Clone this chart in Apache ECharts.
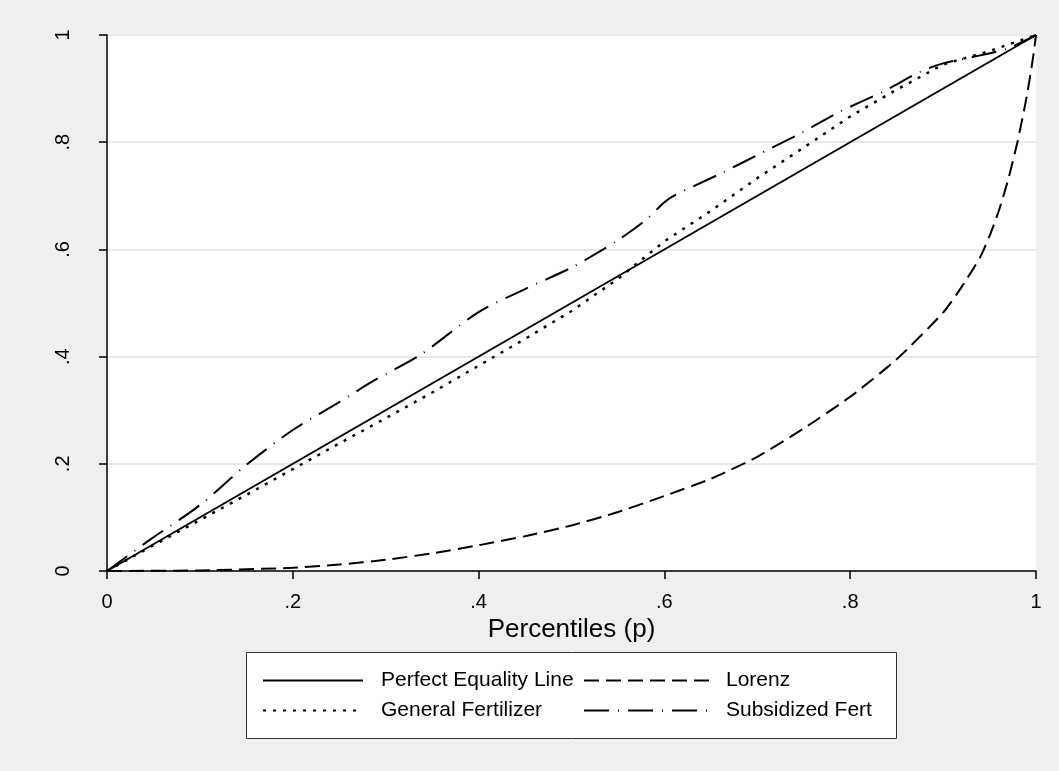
<!DOCTYPE html>
<html>
<head>
<meta charset="utf-8">
<script src="https://cdn.jsdelivr.net/npm/echarts@6/dist/echarts.min.js"></script>
<style>
  html, body { margin: 0; padding: 0; background: #efefef; }
  #chart { width: 1059px; height: 771px; }
</style>
</head>
<body>
<div id="chart"></div>
<script>
// tick labels (Stata style, no leading zero)
var tickLabels = ['0', '.2', '.4', '.6', '.8', '1'];

// Perfect Equality Line
var equalityX = [0, 1];
var equalityY = [0, 1];

// Lorenz
var lorenzX = [0, 0.1, 0.2, 0.25, 0.3, 0.35, 0.4, 0.45, 0.5, 0.55, 0.6, 0.65, 0.7, 0.75, 0.8, 0.85, 0.9, 0.92, 0.94, 0.95, 0.96, 0.97, 0.98, 0.99, 0.997, 1];
var lorenzY = [0, 0.001, 0.006, 0.012, 0.021, 0.033, 0.048, 0.065, 0.085, 0.11, 0.14, 0.172, 0.213, 0.266, 0.325, 0.395, 0.482, 0.53, 0.586, 0.625, 0.672, 0.73, 0.80, 0.885, 0.96, 1];

// General Fertilizer
var genX = [0, 0.05, 0.1, 0.15, 0.2, 0.25, 0.3, 0.35, 0.4, 0.45, 0.5, 0.55, 0.6, 0.65, 0.7, 0.75, 0.8, 0.85, 0.9, 0.95, 1];
var genY = [0, 0.048, 0.095, 0.142, 0.19, 0.238, 0.285, 0.333, 0.383, 0.433, 0.485, 0.545, 0.615, 0.672, 0.733, 0.79, 0.848, 0.898, 0.945, 0.97, 1];

// Subsidized Fert
var subX = [0, 0.046, 0.1, 0.15, 0.2, 0.25, 0.288, 0.337, 0.4, 0.45, 0.5, 0.53, 0.55, 0.58, 0.6, 0.61, 0.66, 0.7, 0.747, 0.789, 0.835, 0.875, 0.9, 0.94, 0.97, 1];
var subY = [0, 0.058, 0.123, 0.198, 0.263, 0.315, 0.356, 0.403, 0.483, 0.526, 0.566, 0.596, 0.617, 0.655, 0.688, 0.70, 0.741, 0.776, 0.817, 0.857, 0.894, 0.931, 0.947, 0.962, 0.975, 1];

function pairs(xs, ys) {
    return xs.map(function (x, i) { return [x, ys[i]]; });
}
function tickFmt(v) {
    return tickLabels[Math.round(v / 0.2)];
}

var font = 'Liberation Sans, Arial, sans-serif';
var myChart = echarts.init(document.getElementById('chart'));
var option = {
    backgroundColor: '#efefef',
    animation: false,
    color: ['#000', '#000', '#000', '#000'],
    textStyle: { fontFamily: font },
    grid: {
        left: 107,
        right: 23,
        top: 35,
        bottom: 200,
        show: true,
        backgroundColor: '#fff',
        borderWidth: 0
    },
    xAxis: {
        type: 'value',
        min: 0,
        max: 1,
        interval: 0.2,
        name: 'Percentiles (p)',
        nameLocation: 'middle',
        nameGap: 40,
        nameTextStyle: { fontSize: 26, color: '#000', fontFamily: font },
        axisLine: { lineStyle: { color: '#000', width: 1.5 } },
        axisTick: { show: true, length: 8, lineStyle: { color: '#000', width: 1.5 } },
        axisLabel: { formatter: tickFmt, fontSize: 20, color: '#000', margin: 21, fontFamily: font },
        splitLine: { show: false }
    },
    yAxis: {
        type: 'value',
        min: 0,
        max: 1,
        interval: 0.2,
        axisLine: { show: true, lineStyle: { color: '#000', width: 1.5 } },
        axisTick: { show: true, length: 8, lineStyle: { color: '#000', width: 1.5 } },
        axisLabel: { formatter: tickFmt, fontSize: 20, color: '#000', rotate: 90, margin: 34, fontFamily: font },
        splitLine: { show: true, lineStyle: { color: '#e8e8e8', width: 2 } }
    },
    graphic: [{
        type: 'rect',
        z: 0,
        silent: true,
        shape: { x: 246.5, y: 652.5, width: 650, height: 86 },
        style: { fill: '#fff', stroke: '#333', lineWidth: 1 }
    }],
    legend: [{
        left: 262,
        top: 670,
        orient: 'vertical',
        padding: 0,
        itemWidth: 100,
        itemHeight: 20,
        itemGap: 9,
        selectedMode: false,
        itemStyle: { opacity: 0 },
        textStyle: { fontSize: 21, color: '#000', padding: [0, 0, 0, 13], fontFamily: font },
        data: ['Perfect Equality Line', 'General Fertilizer']
    }, {
        left: 583,
        top: 670,
        orient: 'vertical',
        padding: 0,
        itemWidth: 128,
        itemHeight: 20,
        itemGap: 9,
        selectedMode: false,
        itemStyle: { opacity: 0 },
        textStyle: { fontSize: 21, color: '#000', padding: [0, 0, 0, 9], fontFamily: font },
        data: ['Lorenz', 'Subsidized Fert']
    }],
    series: [
        {
            name: 'Perfect Equality Line',
            type: 'line',
            symbol: 'none',
            data: pairs(equalityX, equalityY),
            lineStyle: { color: '#000', width: 2, type: 'solid' }
        },
        {
            name: 'Lorenz',
            type: 'line',
            symbol: 'none',
            smooth: 0.2,
            data: pairs(lorenzX, lorenzY),
            lineStyle: { color: '#000', width: 2, type: [15, 7] }
        },
        {
            name: 'General Fertilizer',
            type: 'line',
            symbol: 'none',
            data: pairs(genX, genY),
            lineStyle: { color: '#000', width: 2.5, type: [3, 7] }
        },
        {
            name: 'Subsidized Fert',
            type: 'line',
            symbol: 'none',
            smooth: 0.3,
            data: pairs(subX, subY),
            lineStyle: { color: '#000', width: 2, type: [25, 9, 1, 9] }
        }
    ]
};
myChart.setOption(option);
</script>
</body>
</html>
